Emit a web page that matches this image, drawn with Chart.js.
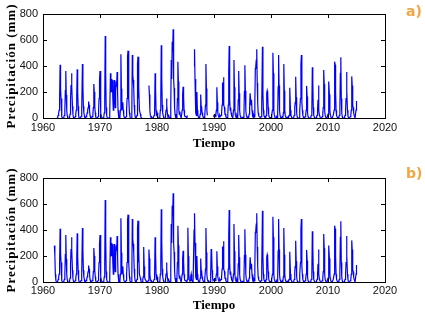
<!DOCTYPE html>
<html><head><meta charset="utf-8">
<script src="https://cdn.jsdelivr.net/npm/chart.js@4/dist/chart.umd.min.js"></script>
<style>
html,body{margin:0;padding:0;background:#fff;width:425px;height:318px;overflow:hidden;}
#wrap{position:relative;width:425px;height:318px;}
canvas{position:absolute;left:0;}
#c1{top:0}
#c2{top:160px}
.tag{position:absolute;font:bold 14px "DejaVu Sans",sans-serif;color:#F2A540;line-height:16px;}
</style></head><body>
<div id="wrap">
<canvas id="c1" width="425" height="160"></canvas>
<canvas id="c2" width="425" height="158"></canvas>
<div class="tag" style="left:406px;top:3px">a)</div>
<div class="tag" style="left:406px;top:165px">b)</div>
</div>
<script>
// ---- DATA ----
const START_YEAR = 1962;            // first month of the series = Jan 1962
const xTicks = [1960, 1970, 1980, 1990, 2000, 2010, 2020];
const yTicks = [0, 200, 400, 600, 800];
const xTitle = "Tiempo";
const yTitle = "Precipitación (mm)";
const panelLabels = ["a)", "b)"];

// Monthly precipitation (mm), completed series (panel b), one row per year Jan..Dec
const precipMonthly = [
 280,200,60,15,0,0,0,10,20,40,60,150,        // 1962
 410,220,150,40,10,0,0,0,10,20,60,210,       // 1963
 362,177,60,20,0,0,0,0,10,30,140,250,        // 1964
 344,250,90,30,5,0,0,0,10,30,60,170,         // 1965
 374,200,90,20,0,0,0,0,10,30,60,415,         // 1966
 250,90,40,20,0,0,0,10,20,40,60,80,          // 1967
 126,100,60,20,0,0,0,0,10,30,80,261,         // 1968
 200,90,40,10,0,0,0,0,10,60,150,292,         // 1969
 362,150,40,10,0,0,0,0,10,40,150,630,        // 1970
 344,80,20,5,0,0,0,0,10,30,344,197,          // 1971
 300,200,290,150,60,100,292,150,80,200,280,240, // 1972
 354,200,60,20,0,0,10,60,490,225,60,100,     // 1973
 120,60,20,5,0,0,0,10,60,150,472,518,        // 1974
 333,150,40,10,0,0,0,40,485,333,292,230,     // 1975
 100,40,10,0,0,0,20,420,472,150,240,60,      // 1976
 60,30,10,0,0,0,20,40,270,120,40,20,         // 1977
 20,10,0,0,0,0,10,250,180,60,20,10,          // 1978
 10,5,0,0,0,0,20,60,344,230,60,30,           // 1979
 40,20,5,0,0,0,10,60,150,560,320,100,        // 1980
 40,20,5,0,0,0,20,60,150,100,30,10,          // 1981
 20,10,5,0,0,100,446,300,587,512,682,300,    // 1982
 230,80,30,10,0,0,40,150,433,280,60,30,      // 1983
 50,20,10,0,0,60,180,240,160,60,20,10,       // 1984
 15,10,5,0,20,418,200,60,20,10,10,40,        // 1985
 60,20,10,0,0,0,400,528,300,100,40,20,       // 1986
 200,60,20,10,0,0,10,30,180,90,80,40,        // 1987
 20,10,0,0,0,20,100,415,226,60,20,10,        // 1988
 10,5,0,0,0,60,254,230,90,30,10,10,          // 1989
 20,30,20,10,30,60,236,120,40,20,10,10,      // 1990
 20,10,10,20,40,100,274,100,313,100,80,30,   // 1991
 30,10,5,0,0,20,100,349,554,150,60,80,       // 1992
 40,20,10,0,0,60,446,236,60,20,10,5,         // 1993
 20,10,5,140,362,190,60,20,10,5,0,0,         // 1994
 10,5,0,20,203,405,210,60,20,10,0,0,         // 1995
 10,5,30,80,190,190,100,140,60,20,10,5,      // 1996
 20,10,120,382,400,446,528,270,120,40,20,10, // 1997
 10,5,0,10,40,100,548,190,60,20,10,5,        // 1998
 10,5,20,190,210,190,80,30,10,5,0,0,         // 1999
 5,10,20,60,502,344,60,20,10,5,0,0,          // 2000
 10,5,20,240,485,250,60,20,10,5,0,0,         // 2001
 10,5,40,415,210,60,20,10,5,0,0,0,           // 2002
 10,5,20,180,233,60,20,10,0,0,0,0,           // 2003
 10,20,80,120,318,160,40,10,0,0,0,0,         // 2004
 20,60,150,410,485,120,60,20,10,0,0,0,       // 2005
 10,20,60,247,165,40,10,0,0,0,0,0,           // 2006
 10,20,60,390,280,80,20,10,0,0,0,0,          // 2007
 10,20,60,140,250,60,20,10,0,0,0,0,          // 2008
 10,30,80,369,260,60,20,10,0,0,0,0,          // 2009
 30,80,281,180,60,20,10,0,0,0,0,20,          // 2010
 20,60,433,410,200,60,20,10,0,0,0,10,        // 2011
 20,80,344,467,150,40,10,0,0,0,0,10,         // 2012
 20,60,150,354,210,60,20,0,0,0,0,10,         // 2013
 20,60,320,248,100,80,40,20,10,0,0,60,       // 2014
 130                                         // 2015
];

// Missing stretches in the original series (panel a), inclusive [year, month(1-12)]
const gapStarts = [[1962,1],[1977,7],[1985,6],[1988,12]];
const gapEnds   = [[1962,5],[1978,7],[1986,6],[1989,11]];

// ---- BUILD ----
function idx(ym){ return (ym[0]-START_YEAR)*12 + (ym[1]-1); }
const pointsB = precipMonthly.map((v,i)=>({x: START_YEAR + i/12, y: v}));
const pointsA = pointsB.map((p,i)=>{
  let missing = false;
  for (let g=0; g<gapStarts.length; g++){
    if (i >= idx(gapStarts[g]) && i <= idx(gapEnds[g])) missing = true;
  }
  return {x: p.x, y: missing ? null : p.y};
});

const boxTicks = {
  id:'boxTicks',
  afterLayout(chart){
    const ys = chart.scales.y;
    if (ys && !ys._spaced){
      const orig = ys.drawTitle.bind(ys);
      ys.drawTitle = function(){
        const c = this.ctx; c.save();
        try { c.letterSpacing = '1px'; } catch(e){}
        orig(); c.restore();
      };
      ys._spaced = true;
    }
  },
  afterDatasetsDraw(chart){
    const {ctx, chartArea:a, scales:{x,y}} = chart;
    ctx.save();
    ctx.strokeStyle='#000'; ctx.lineWidth=1;
    ctx.beginPath();
    x.ticks.forEach(t=>{
      const px=Math.round(x.getPixelForValue(t.value))+0.5;
      ctx.moveTo(px,a.bottom); ctx.lineTo(px,a.bottom-4);
      ctx.moveTo(px,a.top); ctx.lineTo(px,a.top+4);
    });
    y.ticks.forEach(t=>{
      const py=Math.round(y.getPixelForValue(t.value))+0.5;
      ctx.moveTo(a.left,py); ctx.lineTo(a.left+4,py);
      ctx.moveTo(a.right,py); ctx.lineTo(a.right-4,py);
    });
    ctx.stroke();
    ctx.strokeRect(Math.round(a.left)+0.5, Math.round(a.top)+0.5,
                   Math.round(a.right-a.left), Math.round(a.bottom-a.top));
    ctx.restore();
  }
};

const tickFont = {family:'"Liberation Sans Narrow","Liberation Sans",Arial,sans-serif', size:11};
const titleFont = {family:'"Liberation Serif","Times New Roman",serif', size:13, weight:'bold'};

function makeChart(id, points, opts){
  return new Chart(document.getElementById(id), {
    type:'line',
    data:{datasets:[{data:points, borderColor:'#0000ff', borderWidth:1.2, pointRadius:0,
                     tension:0, spanGaps:false, fill:false}]},
    options:{
      responsive:false, animation:false, parsing:true,
      layout:{padding:{left:0,right:40,top:opts.top,bottom:0}},
      plugins:{legend:{display:false}, tooltip:{enabled:false}},
      scales:{
        x:{type:'linear', min:xTicks[0], max:xTicks[xTicks.length-1],
           afterBuildTicks(s){ s.ticks = xTicks.map(v=>({value:v})); },
           afterFit(s){ s.height = opts.xh; },
           grid:{display:false, drawTicks:false}, border:{display:false},
           ticks:{font:tickFont, color:'#111', padding:opts.xpad, maxRotation:0, autoSkip:false,
                  callback:v=>String(v)},
           title:{display:true, text:xTitle, font:titleFont, color:'#000',
                  padding:{top:0,bottom:opts.xtb}}
        },
        y:{min:yTicks[0], max:yTicks[yTicks.length-1],
           afterBuildTicks(s){ s.ticks = yTicks.map(v=>({value:v})); },
           afterFit(s){ s.width = 43; },
           grid:{display:false, drawTicks:false}, border:{display:false},
           ticks:{font:tickFont, color:'#111', padding:5},
           title:{display:true, text:yTitle, font:titleFont, color:'#000',
                  padding:{top:4,bottom:0}}
        }
      }
    },
    plugins:[boxTicks]
  });
}

makeChart('c1', pointsA, {top:14, xh:42, xpad:3, xtb:9});
makeChart('c2', pointsB, {top:18, xh:36, xpad:2, xtb:5});
</script>
</body></html>
